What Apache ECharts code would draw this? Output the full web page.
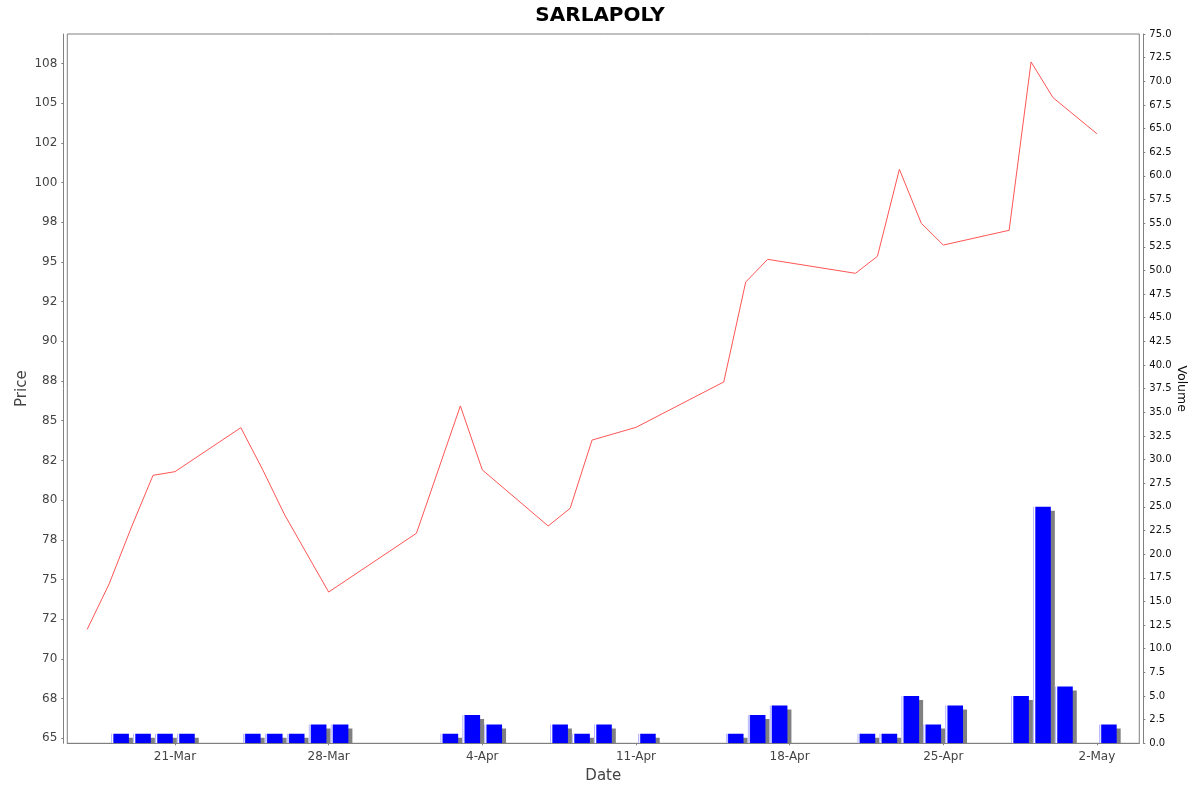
<!DOCTYPE html>
<html>
<head>
<meta charset="utf-8">
<title>SARLAPOLY</title>
<script src="https://cdn.jsdelivr.net/npm/echarts@6/dist/echarts.min.js"></script>
<style>
  html, body { margin: 0; padding: 0; background: #ffffff; }
  #chart { width: 1200px; height: 792px; }
</style>
</head>
<body>
<div id="chart"></div>
<script>
// price line (closing price per trading day)
const priceDates = ['2025-03-17', '2025-03-18', '2025-03-19', '2025-03-20', '2025-03-21',
    '2025-03-24', '2025-03-25', '2025-03-26', '2025-03-28', '2025-04-01', '2025-04-03',
    '2025-04-04', '2025-04-07', '2025-04-08', '2025-04-09', '2025-04-11', '2025-04-15',
    '2025-04-16', '2025-04-17', '2025-04-21', '2025-04-22', '2025-04-23', '2025-04-24',
    '2025-04-25', '2025-04-28', '2025-04-29', '2025-04-30', '2025-05-02'];
const prices = [71.86, 74.72, 78.24, 81.56, 81.79,
    84.56, 81.90, 79.06, 74.21, 77.91, 85.93,
    81.90, 78.37, 79.48, 83.78, 84.58, 87.44,
    93.73, 95.16, 94.28, 95.35, 100.83, 97.43,
    96.06, 96.99, 107.59, 105.34, 103.07];

// volume bars
const volumeDates = ['2025-03-18', '2025-03-19', '2025-03-20', '2025-03-21',
    '2025-03-24', '2025-03-25', '2025-03-26', '2025-03-27', '2025-03-28',
    '2025-04-02', '2025-04-03', '2025-04-04', '2025-04-07', '2025-04-08', '2025-04-09',
    '2025-04-11', '2025-04-15', '2025-04-16', '2025-04-17',
    '2025-04-21', '2025-04-22', '2025-04-23', '2025-04-24', '2025-04-25',
    '2025-04-28', '2025-04-29', '2025-04-30', '2025-05-02'];
const volumes = [1, 1, 1, 1,
    1, 1, 1, 2, 2,
    1, 3, 2, 2, 1, 2,
    1, 1, 3, 4,
    1, 1, 5, 2, 4,
    5, 25, 6, 2];

// tick labels
const dateTicks = ['2025-03-21', '2025-03-28', '2025-04-04', '2025-04-11',
    '2025-04-18', '2025-04-25', '2025-05-02'];
const priceTicks = [65, 67.5, 70, 72.5, 75, 77.5, 80, 82.5, 85, 87.5,
    90, 92.5, 95, 97.5, 100, 102.5, 105, 107.5];
const priceTickLabels = ['65', '68', '70', '72', '75', '78', '80', '82', '85', '88',
    '90', '92', '95', '98', '100', '102', '105', '108'];
const monthNames = ['Jan', 'Feb', 'Mar', 'Apr', 'May', 'Jun', 'Jul', 'Aug', 'Sep', 'Oct', 'Nov', 'Dec'];

const DAY = 86400000;
const ts = s => Date.parse(s + 'T00:00:00Z');

const xMin = ts('2025-03-21') - 4.906 * DAY;
const xMax = ts('2025-03-21') + 43.93 * DAY;

const chart = echarts.init(document.getElementById('chart'));

const barFill = new echarts.graphic.LinearGradient(0, 0, 1, 0, [
    { offset: 0, color: '#8c8cff' },
    { offset: 0.07, color: '#ffffff' },
    { offset: 0.15, color: '#0000ff' },
    { offset: 1, color: '#0000ff' }
]);

const option = {
    animation: false,
    backgroundColor: '#ffffff',
    textStyle: { fontFamily: 'DejaVu Sans' },
    title: {
        text: 'SARLAPOLY',
        left: 'center',
        top: 1,
        textStyle: { fontSize: 20, fontWeight: 'bold', color: '#000000', fontFamily: 'DejaVu Sans' }
    },
    grid: {
        left: 67.3,
        right: 60.7,
        top: 34,
        bottom: 48.7,
        outerBoundsMode: 'none',
        show: true,
        borderColor: '#808080',
        borderWidth: 1,
        backgroundColor: '#ffffff'
    },
    xAxis: {
        type: 'value',
        min: xMin,
        max: xMax,
        offset: 4,
        name: 'Date',
        nameLocation: 'middle',
        nameGap: 21,
        nameMoveOverlap: false,
        nameTextStyle: { fontSize: 15, color: '#444444' },
        axisLine: { lineStyle: { color: '#808080', width: 1 } },
        axisTick: { show: true, length: 2, lineStyle: { color: '#808080' }, customValues: dateTicks.map(ts) },
        axisLabel: {
            customValues: dateTicks.map(ts),
            fontSize: 12,
            color: '#444444',
            margin: 4,
            formatter: function (val) {
                const d = new Date(val);
                return d.getUTCDate() + '-' + monthNames[d.getUTCMonth()];
            }
        },
        splitLine: { show: false }
    },
    yAxis: [{
        type: 'value',
        position: 'left',
        min: 64.685,
        max: 109.35,
        offset: 4,
        name: 'Price',
        nameLocation: 'middle',
        nameRotate: 90,
        nameGap: 34,
        nameMoveOverlap: false,
        nameTextStyle: { fontSize: 15, color: '#444444' },
        axisLine: { show: true, lineStyle: { color: '#808080', width: 1 } },
        axisTick: { show: true, length: 2, lineStyle: { color: '#808080' }, customValues: priceTicks },
        axisLabel: {
            customValues: priceTicks,
            fontSize: 12,
            color: '#444444',
            margin: 6,
            formatter: function (val) {
                const i = priceTicks.indexOf(val);
                return i >= 0 ? priceTickLabels[i] : '';
            }
        },
        splitLine: { show: false }
    }, {
        type: 'value',
        position: 'right',
        min: 0,
        max: 75,
        interval: 2.5,
        offset: 4,
        name: 'Volume',
        nameLocation: 'middle',
        nameRotate: -90,
        nameGap: 31,
        nameMoveOverlap: false,
        nameTextStyle: { fontSize: 12.5, color: '#111111' },
        axisLine: { show: true, lineStyle: { color: '#808080', width: 1 } },
        axisTick: { show: true, length: 2, lineStyle: { color: '#808080' } },
        axisLabel: {
            fontSize: 10,
            color: '#111111',
            margin: 6,
            formatter: val => val.toFixed(1)
        },
        splitLine: { show: false }
    }],
    series: [{
        name: 'Volume',
        type: 'custom',
        yAxisIndex: 1,
        clip: true,
        encode: { x: 0, y: 1 },
        data: volumeDates.map((d, i) => [ts(d), volumes[i]]),
        renderItem: function (params, api) {
            const d = api.value(0);
            const v = api.value(1);
            const p0 = api.coord([d + 0.1 * DAY, v]);
            const p1 = api.coord([d + 0.9 * DAY, 0]);
            const w = p1[0] - p0[0];
            const h = p1[1] - p0[1];
            return {
                type: 'group',
                children: [{
                    type: 'rect',
                    shape: { x: p0[0] + 4, y: p0[1] + 4, width: w, height: h },
                    style: { fill: '#808080' }
                }, {
                    type: 'rect',
                    shape: { x: p0[0], y: p0[1], width: w, height: h },
                    style: { fill: barFill }
                }]
            };
        },
        z: 2
    }, {
        name: 'Price',
        type: 'line',
        yAxisIndex: 0,
        symbol: 'none',
        lineStyle: { color: '#ff5555', width: 1 },
        data: priceDates.map((d, i) => [ts(d), prices[i]]),
        z: 3
    }]
};

chart.setOption(option);
</script>
</body>
</html>
